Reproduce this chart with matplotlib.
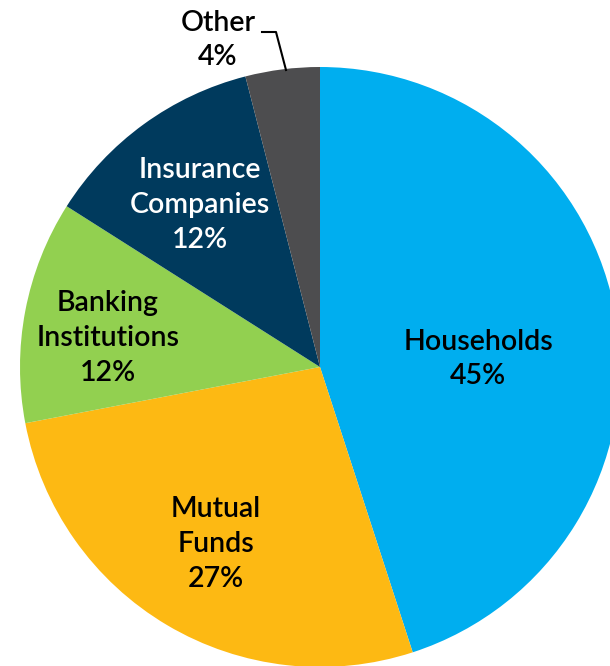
import matplotlib.pyplot as plt

labels = ['Households', 'Mutual\nFunds', 'Banking\nInstitutions', 'Insurance\nCompanies', 'Other']
shares = [45, 27, 12, 12, 4]
colors = ['#00aeef', '#fdb913', '#92d050', '#003a5d', '#4d4d4f']
text_colors = ['black', 'black', 'black', 'white', 'black']

# label centers in pixel coords (y measured from top)
label_pos = [(478, 359), (216, 544), (108, 338), (200, 205), (218, 40)]

W, H = 610, 666
fig = plt.figure(figsize=(W / 100, H / 100), dpi=100)
ax = fig.add_axes([0, 0, 1, 1])

ax.pie(shares, colors=colors, startangle=90, counterclock=False,
       center=(320, H - 367), radius=300, frame=True,
       wedgeprops=dict(linewidth=0))
ax.set_xlim(0, W)
ax.set_ylim(0, H)
ax.set_aspect('equal')
ax.axis('off')

for lab, val, c, (x, y) in zip(labels, shares, text_colors, label_pos):
    ax.text(x, H - y, f'{lab}\n{val}%', ha='center', va='center',
            fontsize=20.5, color=c, family='Lato', weight='semibold',
            linespacing=1.42)

# leader line for "Other"
ax.plot([262, 276, 286], [H - 32, H - 32, H - 70], color='black', lw=1.5)

fig.savefig('out.png', dpi=100)
